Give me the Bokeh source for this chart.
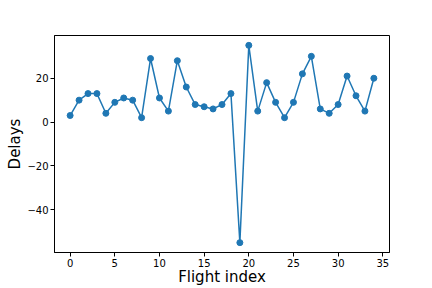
from bokeh.plotting import figure
from bokeh.models import Range1d, FixedTicker
from bokeh.embed import file_html
from bokeh.resources import INLINE

flight_index = list(range(35))
delays = [3, 10, 13, 13, 4, 9, 11, 10, 2, 29, 11, 5, 28, 16, 8, 7, 6, 8, 13, -55,
          35, 5, 18, 9, 2, 9, 22, 30, 6, 4, 8, 21, 12, 5, 20]
x_ticks = [0, 5, 10, 15, 20, 25, 30, 35]
y_ticks = [-40, -20, 0, 20]

p = figure(width=432, height=288, output_backend="svg", toolbar_location=None,
           x_range=Range1d(-1.75, 35.75), y_range=Range1d(-59.5, 39.5),
           min_border_left=54, min_border_right=43, min_border_top=35, min_border_bottom=36)

p.line(flight_index, delays, line_color="#1f77b4", line_width=1.5)
p.scatter(flight_index, delays, size=6, fill_color="#1f77b4", line_color="#1f77b4", line_width=1)

p.xgrid.visible = False
p.ygrid.visible = False
p.outline_line_color = "black"
p.outline_line_width = 1

p.xaxis.ticker = FixedTicker(ticks=x_ticks)
p.yaxis.ticker = FixedTicker(ticks=y_ticks)
p.xaxis.axis_label = "Flight index"
p.yaxis.axis_label = "Delays"

for ax in (p.xaxis[0], p.yaxis[0]):
    ax.axis_line_color = "black"
    ax.major_tick_line_color = "black"
    ax.minor_tick_line_color = None
    ax.major_tick_in = 0
    ax.major_tick_out = 4
    ax.major_label_text_font = "DejaVu Sans"
    ax.major_label_text_font_size = "10px"
    ax.major_label_text_color = "black"
    ax.axis_label_text_font = "DejaVu Sans"
    ax.axis_label_text_font_size = "15px"
    ax.axis_label_text_font_style = "normal"
    ax.axis_label_text_color = "black"
    ax.major_label_standoff = 2

p.xaxis[0].axis_label_standoff = -2
p.yaxis[0].axis_label_standoff = 0
p.yaxis[0].major_label_orientation = "horizontal"

open("out.html", "w").write(file_html(p, INLINE))
